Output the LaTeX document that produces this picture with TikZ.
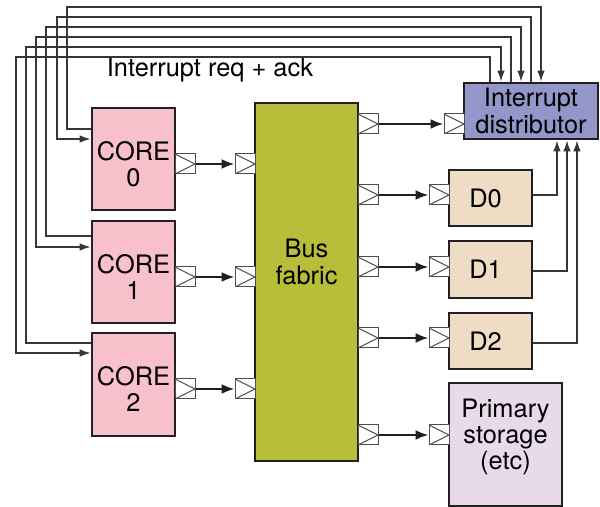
\documentclass[tikz,border=0pt]{standalone}
\usepackage{fontspec}
\setmainfont{TeX Gyre Heros}
\usetikzlibrary{arrows.meta}

\definecolor{edge}{RGB}{35,31,32}
\definecolor{corepink}{RGB}{248,192,203}
\definecolor{busgreen}{RGB}{185,190,58}
\definecolor{distblue}{RGB}{146,150,200}
\definecolor{devtan}{RGB}{238,221,196}
\definecolor{storelilac}{RGB}{232,218,235}

\tikzset{
  blk/.style={draw=edge,line width=1.4pt,inner sep=0pt,align=center,
    font=\fontsize{12.7}{13.2}\selectfont},
  port/.style={draw=edge!80,line width=0.5pt,fill=white,minimum size=10pt,
    inner sep=0pt,
    path picture={\draw[edge!80,line width=0.5pt]
      (path picture bounding box.north west) -- (path picture bounding box.east)
      -- (path picture bounding box.south west);}},
  sig/.style={draw=edge,line width=1.1pt,-{Latex[length=6.5pt,width=5pt]}},
  irq/.style={draw=edge!90,line width=0.7pt},
  irqin/.style={irq,-{Latex[length=5.5pt,width=3.8pt]}}
}

\begin{document}
\begin{tikzpicture}[x=0.5pt,y=-0.5pt]
\useasboundingbox (0,0) rectangle (600,507);

% blocks
\node[blk,fill=corepink,minimum width=41.5pt,minimum height=51pt] (c0) at (133.5,159) {};
\node[blk,fill=corepink,minimum width=41.5pt,minimum height=51pt] (c1) at (133.5,272) {};
\node[blk,fill=corepink,minimum width=41.5pt,minimum height=51.5pt] (c2) at (133.5,384.5) {};
\node[blk,draw=none] (c0lbl) at (133.5,164) {CORE\\0};
\node[blk,draw=none] (c1lbl) at (133.5,277) {CORE\\1};
\node[blk,draw=none] (c2lbl) at (133.5,389) {CORE\\2};
\node[blk,fill=busgreen,minimum width=51.5pt,minimum height=179pt] (bus) at (306.5,282) {};
\node[blk,draw=none] (buslbl) at (306.5,262) {Bus\\fabric};
\node[blk,fill=distblue,minimum width=67pt,minimum height=28pt] (id) at (531,111) {Interrupt\\distributor};
\node[blk,fill=devtan,minimum width=41.5pt,minimum height=28pt] (d0) at (490.5,198) {D0\kern5pt};
\node[blk,fill=devtan,minimum width=41.5pt,minimum height=28.5pt] (d1) at (490.5,269.5) {D1\kern5pt};
\node[blk,fill=devtan,minimum width=41.5pt,minimum height=28pt] (d2) at (490.5,341) {D2\kern5pt};
\node[blk,fill=storelilac,minimum width=56.5pt,minimum height=61.5pt] (mem) at (505.5,444.5) {};
\node[blk,draw=none] (memlbl) at (505.5,437) {Primary\\storage\\(etc)};

% ports
\node[port] (c0o) at (185,164) {};
\node[port] (c1o) at (185,277) {};
\node[port] (c2o) at (185,389) {};
\node[port] (b0i) at (245,164) {};
\node[port] (b1i) at (245,277) {};
\node[port] (b2i) at (245,389) {};
\node[port] (bido) at (368,124) {};
\node[port] (bd0o) at (368,195) {};
\node[port] (bd1o) at (368,267) {};
\node[port] (bd2o) at (368,338) {};
\node[port] (bmo) at (368,435) {};
\node[port] (idi) at (454,124) {};
\node[port] (d0i) at (439,195) {};
\node[port] (d1i) at (439,267) {};
\node[port] (d2i) at (439,338) {};
\node[port] (mi) at (439,435) {};

% data paths
\draw[sig] (c0o) -- (b0i);
\draw[sig] (c1o) -- (b1i);
\draw[sig] (c2o) -- (b2i);
\draw[sig] (bido) -- (idi);
\draw[sig] (bd0o) -- (d0i);
\draw[sig] (bd1o) -- (d1i);
\draw[sig] (bd2o) -- (d2i);
\draw[sig] (bmo) -- (mi);

% interrupt req + ack wiring
\node[font=\fontsize{12.7}{13.2}\selectfont] (irqlbl) at (210,70) {Interrupt req + ack};
\draw[irqin] (c0.west |- 0,129) -| (67,7) -| (541,0 |- id.north);
\draw[irqin] (531,0 |- id.north) |- (57,17) |- (c0.west |- 0,139);
\draw[irqin] (c1.west |- 0,236) -| (46,27) -| (521,0 |- id.north);
\draw[irqin] (511,0 |- id.north) |- (36,37) |- (c1.west |- 0,247);
\draw[irqin] (c2.west |- 0,343) -| (26,47) -| (501,0 |- id.north);
\draw[irqin] (490,0 |- id.north) |- (16,57) |- (c2.west |- 0,353);
\draw[irqin] (d0.east |- 0,195) -| (557,0 |- id.south);
\draw[irqin] (d1.east |- 0,271) -| (567,0 |- id.south);
\draw[irqin] (d2.east |- 0,343) -| (577,0 |- id.south);
\end{tikzpicture}
\end{document}
